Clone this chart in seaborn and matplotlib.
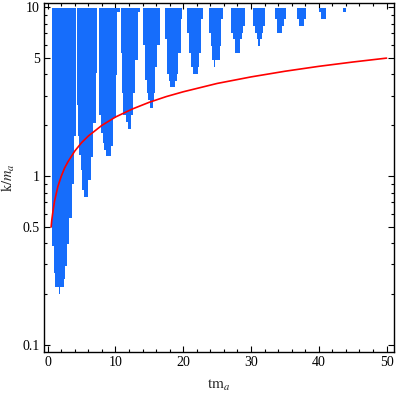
import numpy as np
import matplotlib
matplotlib.use("Agg")
import matplotlib.pyplot as plt
from matplotlib.ticker import FixedLocator, MultipleLocator, LogLocator, NullFormatter
import seaborn as sns

# ---- data (t = t*m_a, k = k/m_a) ----
band_top = 9.9

band_A_edges = [0.64, 0.93, 1.08, 1.67, 1.77, 2.33, 2.51, 2.80, 3.10, 3.58, 3.88, 4.17]
band_A_low = [0.387, 0.268, 0.221, 0.201, 0.221, 0.247, 0.294, 0.398, 0.567, 0.900, 1.73]

band_B_edges = [4.37, 4.51, 4.66, 4.84, 5.01, 5.35, 5.99, 6.34, 6.73, 7.05, 7.32]
band_B_low = [2.64, 1.73, 1.34, 1.09, 0.830, 0.749, 0.951, 1.30, 2.07, 4.09]

band_C_edges = [7.61, 7.82, 8.11, 8.30, 8.60, 9.29, 9.68, 10.07, 10.27, 10.66]
band_C_low = [2.31, 1.80, 1.57, 1.43, 1.32, 1.51, 2.21, 3.98, 9.42]

band_D_edges = [10.81, 10.96, 11.15, 11.55, 11.84, 12.24, 12.54, 12.92, 13.27, 13.61]
band_D_low = [5.36, 3.11, 2.31, 2.10, 1.91, 2.31, 3.10, 4.88, 9.42]

band_E_edges = [14.10, 14.31, 14.60, 14.84, 15.04, 15.49, 15.68, 15.87, 16.16, 16.56]
band_E_low = [5.98, 3.71, 3.10, 2.83, 2.55, 2.83, 3.10, 4.43, 5.98]

band_F_edges = [17.30, 17.55, 17.64, 17.89, 18.04, 18.78, 19.03, 19.26, 19.62, 19.76]
band_F_low = [6.52, 5.39, 4.05, 3.68, 3.35, 3.68, 4.05, 5.39, 8.53]

band_G_edges = [20.55, 20.84, 21.14, 21.39, 22.12, 22.36, 22.61, 22.86]
band_G_low = [7.07, 5.39, 4.45, 4.05, 4.45, 5.39, 8.53]

band_H_edges = [23.79, 24.04, 24.28, 24.53, 24.72, 25.37, 25.56, 25.86]
band_H_low = [7.07, 5.93, 4.90, 4.45, 4.90, 5.93, 8.53]

band_I_edges = [27.04, 27.33, 27.62, 28.36, 28.61, 28.81, 29.10]
band_I_low = [7.07, 6.52, 5.39, 6.52, 7.07, 7.78]

band_J_edges = [30.28, 30.58, 30.83, 31.02, 31.27, 31.56, 31.80, 32.05]
band_J_low = [7.78, 7.07, 6.49, 5.93, 6.49, 7.07, 7.78]

band_K_edges = [33.52, 33.81, 34.55, 34.85, 35.14]
band_K_low = [8.56, 7.07, 7.78, 8.56]

band_L_edges = [36.77, 37.06, 37.80, 38.10]
band_L_low = [8.56, 7.78, 8.56]

band_M_edges = [40.01, 40.31, 41.05]
band_M_low = [9.42, 8.56]

band_N_edges = [43.55, 43.99]
band_N_low = [9.42]

curve_t = [0.5, 0.6, 0.7, 0.8, 1.0, 1.2, 1.5, 2.0, 2.5, 3.0, 4.0, 5.0, 6.0, 8.0,
           10.0, 12.5, 15.0, 17.5, 20.0, 25.0, 30.0, 35.0, 40.0, 45.0, 50.0]
curve_k = [0.50, 0.55, 0.59, 0.63, 0.71, 0.77, 0.87, 1.00, 1.12, 1.22, 1.41, 1.58, 1.73, 2.00,
           2.24, 2.50, 2.74, 2.96, 3.16, 3.54, 3.87, 4.18, 4.47, 4.74, 5.00]

x_ticks = [0, 10, 20, 30, 40, 50]
y_ticks = [0.1, 0.5, 1, 5, 10]
y_tick_labels = ["0.1", "0.5", "1", "5", "10"]

bands = [
    (band_A_edges, band_A_low), (band_B_edges, band_B_low), (band_C_edges, band_C_low),
    (band_D_edges, band_D_low), (band_E_edges, band_E_low), (band_F_edges, band_F_low),
    (band_G_edges, band_G_low), (band_H_edges, band_H_low), (band_I_edges, band_I_low),
    (band_J_edges, band_J_low), (band_K_edges, band_K_low), (band_L_edges, band_L_low),
    (band_M_edges, band_M_low), (band_N_edges, band_N_low),
]

# ---- style ----
sns.set_style("ticks")
plt.rcParams["font.family"] = ["Liberation Serif", "DejaVu Serif"]
plt.rcParams["mathtext.fontset"] = "stix"

fig = plt.figure(figsize=(4.0, 3.96), dpi=100)
ax = fig.add_axes([44 / 400, 44 / 396, 350 / 400, 349 / 396])

blue = "#166dfb"
for edges, low in bands:
    e = np.asarray(edges, dtype=float)
    lo = np.append(np.asarray(low, dtype=float), low[-1])
    ax.fill_between(e, lo, band_top, step="post", color=blue, linewidth=0)

sns.lineplot(x=curve_t, y=curve_k, color="red", linewidth=1.2, ax=ax, sort=True)

ax.set_yscale("log")
ax.set_xlim(-0.55, 51.1)
ax.set_ylim(0.091, 10.6)

ax.xaxis.set_major_locator(FixedLocator(x_ticks))
ax.xaxis.set_minor_locator(MultipleLocator(2))
ax.set_xticklabels([str(v) for v in x_ticks])
ax.yaxis.set_major_locator(FixedLocator(y_ticks))
ax.set_yticklabels(y_tick_labels)
ax.yaxis.set_minor_locator(LogLocator(base=10, subs=np.arange(2, 10)))
ax.yaxis.set_minor_formatter(NullFormatter())

ax.tick_params(which="both", direction="in", top=True, right=True, colors="black",
               labelsize=10, width=0.8)
ax.tick_params(which="major", length=4.5, pad=3)
ax.tick_params(which="minor", length=2.5)

for s in ax.spines.values():
    s.set_linewidth(1.0)
    s.set_color("black")
    s.set_visible(True)

ax.set_xlabel(r"$\mathrm{tm}_{a}$", fontsize=11)
ax.xaxis.set_label_coords(0.5, -0.075)
ax.set_ylabel(r"$\mathrm{k}/m_{a}$", fontsize=10.5)
ax.yaxis.set_label_coords(-0.076, 0.5)

fig.savefig("out.png", dpi=100)
